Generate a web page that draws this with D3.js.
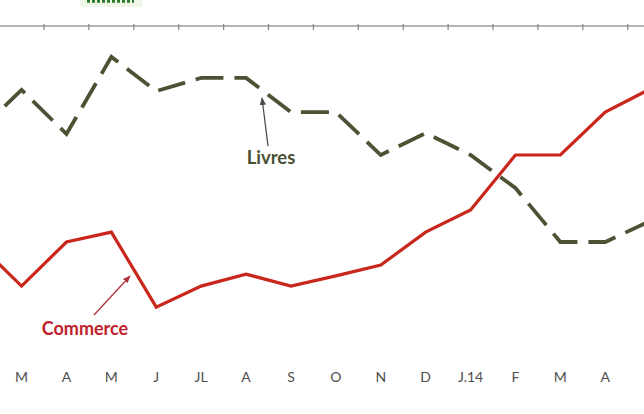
<!DOCTYPE html>
<html>
<head>
<meta charset="utf-8">
<script src="https://cdn.jsdelivr.net/npm/d3@7"></script>
<style>
  html, body { margin: 0; padding: 0; background: #fff; }
  svg { display: block; }
</style>
</head>
<body>
<svg id="chart" width="644" height="414"></svg>
<script>
// Categories (first and last are partially visible months outside the crop)
const categories = ["F0", "M", "A", "M2", "J", "JL", "A2", "S", "O", "N", "D", "J.14", "F", "M3", "A3", "M4"];
const tickLabels = ["", "M", "A", "M", "J", "JL", "A", "S", "O", "N", "D", "J.14", "F", "M", "A", "M"];
// Series values (arbitrary index units)
const livres   = [72.3, 86.7, 72.0, 97.7, 86.3, 90.7, 90.7, 79.3, 79.3, 65.0, 72.3, 65.0, 54.0, 36.0, 36.0, 43.0];
const commerce = [36.0, 21.3, 36.0, 39.3, 14.3, 21.3, 25.3, 21.3, 24.7, 28.3, 39.3, 46.7, 65.0, 65.0, 79.3, 87.0];

const svg = d3.select("#chart");
const W = 644, H = 414;

const x = d3.scaleBand().domain(categories).range([-45.8, 672.6]).padding(0);
const xc = d => x(d) + x.bandwidth() / 2;
const y = d3.scaleLinear().domain([0, 100]).range([350, 50]);

// partial legend at top
svg.append("rect").attr("x", 80).attr("y", -4).attr("width", 62).attr("height", 11)
  .attr("fill", "#eef7e8");
svg.append("line").attr("x1", 87).attr("x2", 134).attr("y1", 1).attr("y2", 1)
  .attr("stroke", "#2f7a2a").attr("stroke-width", 3.5).attr("stroke-dasharray", "3 2");

// top axis line with category boundary ticks
const axisY = 26;
svg.append("line").attr("x1", 0).attr("x2", W).attr("y1", axisY).attr("y2", axisY)
  .attr("stroke", "#9a9a9a").attr("stroke-width", 1.5);
svg.append("g").selectAll("line").data(categories).join("line")
  .attr("x1", d => x(d)).attr("x2", d => x(d))
  .attr("y1", axisY - 2).attr("y2", axisY + 4)
  .attr("stroke", "#8a8a8a").attr("stroke-width", 1.3);

// bottom labels
svg.append("g").selectAll("text").data(categories).join("text")
  .attr("x", d => xc(d)).attr("y", 382)
  .attr("text-anchor", "middle")
  .attr("font-family", "Lato, 'Open Sans', sans-serif")
  .attr("font-size", 14)
  .attr("fill", "#4e4e4e")
  .text((d, i) => tickLabels[i]);

const line = d3.line().x((d, i) => xc(categories[i])).y(d => y(d));

svg.append("path").datum(livres)
  .attr("d", line).attr("fill", "none")
  .attr("stroke", "#4d5234").attr("stroke-width", 3.8)
  .attr("stroke-dasharray", "28 11")
  .attr("stroke-linejoin", "miter");

svg.append("path").datum(commerce)
  .attr("d", line).attr("fill", "none")
  .attr("stroke", "#c9261c").attr("stroke-width", 3.2)
  .attr("stroke-linejoin", "miter");

// annotations with arrows
const defs = svg.append("defs");
function marker(id, color) {
  defs.append("marker").attr("id", id).attr("viewBox", "0 0 10 10")
    .attr("refX", 9).attr("refY", 5).attr("markerWidth", 6).attr("markerHeight", 6)
    .attr("orient", "auto-start-reverse")
    .append("path").attr("d", "M0,1 L10,5 L0,9 z").attr("fill", color);
}
marker("arrL", "#4a4a4a");
marker("arrC", "#b0343a");

svg.append("line").attr("x1", 268).attr("y1", 146).attr("x2", 262).attr("y2", 98)
  .attr("stroke", "#4a4a4a").attr("stroke-width", 1.3).attr("marker-end", "url(#arrL)");
svg.append("text").attr("x", 271).attr("y", 164).attr("text-anchor", "middle")
  .attr("font-family", "Lato, 'Open Sans', sans-serif").attr("font-weight", "bold")
  .attr("font-size", 18.5).attr("fill", "#4a4f33").text("Livres");

svg.append("line").attr("x1", 94).attr("y1", 315).attr("x2", 130).attr("y2", 276)
  .attr("stroke", "#b0343a").attr("stroke-width", 1.3).attr("marker-end", "url(#arrC)");
svg.append("text").attr("x", 85).attr("y", 335).attr("text-anchor", "middle")
  .attr("font-family", "Lato, 'Open Sans', sans-serif").attr("font-weight", "bold")
  .attr("font-size", 18).attr("fill", "#c0202a").text("Commerce");
</script>
</body>
</html>
